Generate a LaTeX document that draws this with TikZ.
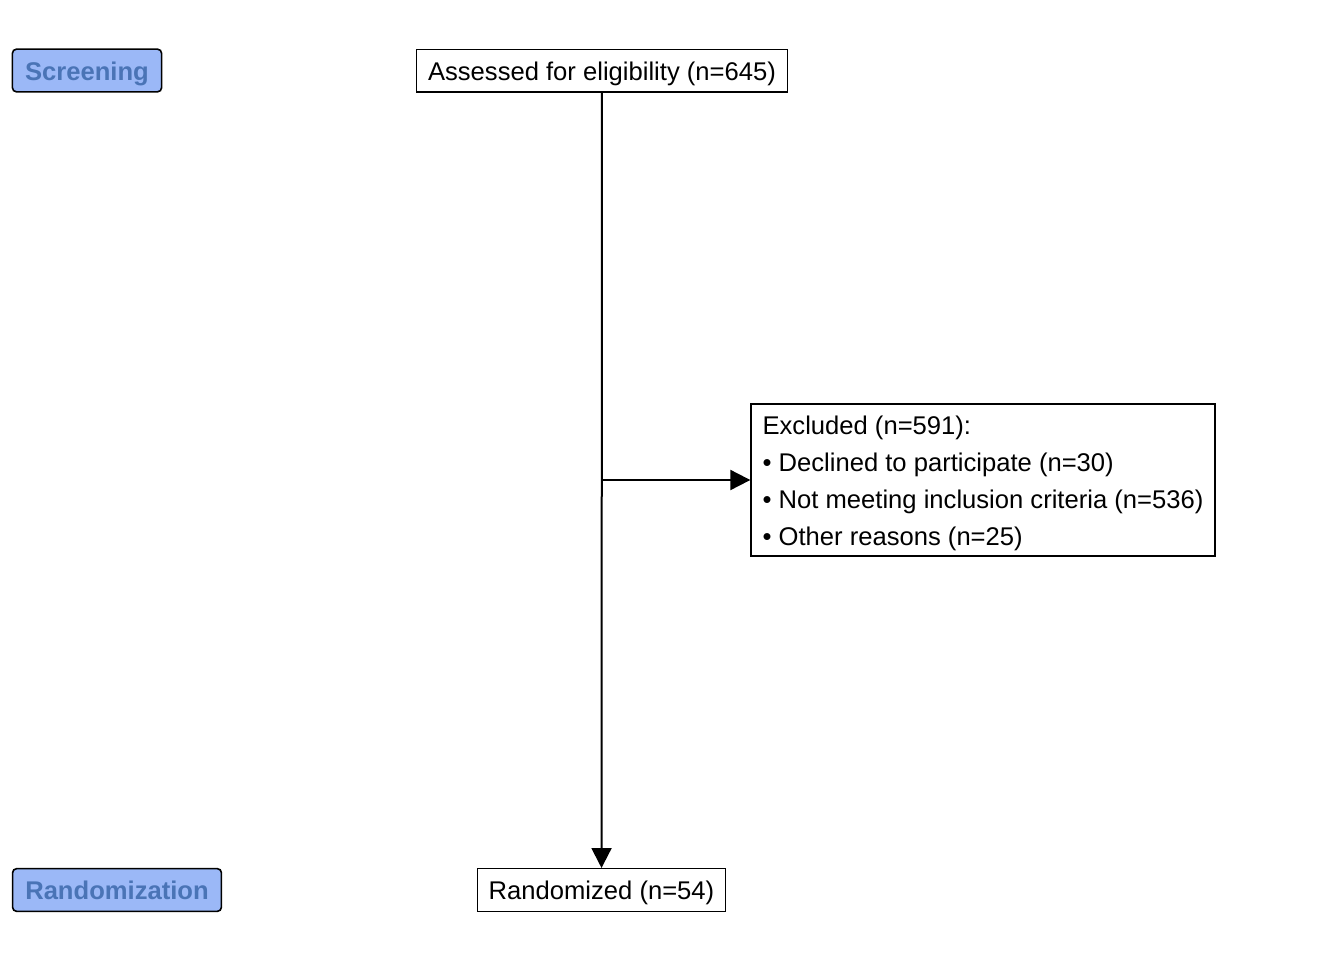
\documentclass[tikz,border=0pt]{standalone}
\usepackage{fontspec}
\setmainfont{Liberation Sans}
\usetikzlibrary{arrows.meta}
\definecolor{phasefill}{HTML}{9BB8F7}
\definecolor{phasetext}{HTML}{4A74B6}
\begin{document}
\begin{tikzpicture}[x=0.75pt, y=-0.75pt,
    every node/.style = {font=\fontsize{19.2}{27.75}\selectfont},
    phase/.style      = {draw, line width=1.2pt, rounded corners=3pt, fill=phasefill,
                         text=phasetext, font=\fontsize{19.2}{27.75}\selectfont\bfseries,
                         minimum height=32pt, inner xsep=9.5pt, text height=18.5pt, text depth=4pt},
    stage/.style      = {draw, line width=1pt, fill=white, minimum height=32pt, inner xsep=8.5pt,
                         text height=18.5pt, text depth=4pt},
    listbox/.style    = {draw, line width=1pt, fill=white, align=left, inner xsep=6pt, inner ysep=0pt,
                         minimum width=348pt, minimum height=114pt},
    flow/.style       = {line width=1.5pt, -{Triangle[length=15pt, width=15pt]}}]
  \useasboundingbox (0,0) rectangle (1344,960);
  \node[phase] (screening)     at (87,70.5)   {Screening};
  \node[phase] (randomization) at (117,890)   {Randomization};
  \node[stage] (assessed)      at (602,70.5)  {Assessed for eligibility (n=645)};
  \node[stage] (randomized)    at (601.5,890) {Randomized (n=54)};
  \node[listbox] (excluded)    at (983,480)
    {\rule{0pt}{18.5pt}Excluded (n=591):\\
     • Declined to participate (n=30)\\
     • Not meeting inclusion criteria (n=536)\\
     • Other reasons (n=25)};
  \coordinate (split) at (assessed.south |- excluded.west);
  \draw[flow] (assessed) -- (randomized);
  \draw[flow] (split) -- (excluded.west);
\end{tikzpicture}
\end{document}
